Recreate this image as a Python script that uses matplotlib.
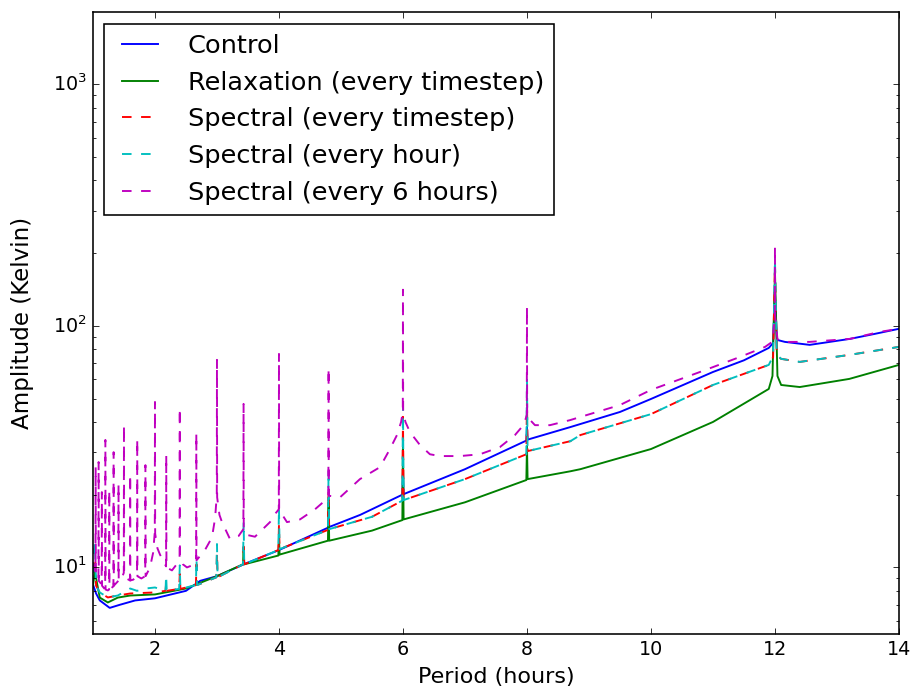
import matplotlib
matplotlib.use("Agg")
import matplotlib.pyplot as plt

# values (period in hours, amplitude in Kelvin)
CONTROL_P = [1.00, 1.05, 1.11, 1.27, 1.43, 1.68, 2.00, 2.50, 2.73, 3.00, 3.43, 4.00,
             4.79, 4.80, 4.81, 5.31, 5.99, 6.00, 6.01, 7.00, 7.99, 8.00, 8.01, 8.70,
             9.50, 10.00, 11.00, 11.50, 11.90, 11.97, 12.00, 12.03, 12.16, 12.56,
             13.21, 13.60, 14.00]
CONTROL_A = [8.5, 7.8, 7.3, 6.8, 7.0, 7.3, 7.45, 8.0, 8.8, 9.2, 10.3, 11.8,
             14.6, 16.9, 14.7, 16.5, 20.0, 24.8, 20.1, 25.5, 33.5, 38.1, 33.8, 38.1,
             44.0, 49.8, 64.4, 72.0, 81.0, 85.0, 138.0, 87.5, 85.8, 83.4,
             88.3, 92.5, 97.2]

RELAX_P = [1.00, 1.03, 1.11, 1.24, 1.40, 1.60, 2.00, 2.50, 3.00, 3.42, 3.43, 3.44,
           3.99, 4.00, 4.01, 4.79, 4.80, 4.81, 5.50, 5.99, 6.00, 6.01, 7.00, 7.99,
           8.00, 8.01, 8.70, 8.86, 10.00, 11.00, 11.90, 11.96, 12.00, 12.04, 12.10,
           12.40, 13.20, 14.00]
RELAX_A = [8.4, 9.6, 7.5, 7.16, 7.5, 7.65, 7.73, 8.18, 9.2, 10.3, 12.1, 10.3,
           11.2, 13.3, 11.3, 12.9, 18.6, 12.9, 14.2, 15.7, 33.0, 15.8, 18.6, 23.0,
           31.8, 23.2, 25.0, 25.5, 30.9, 40.0, 54.8, 62.0, 167.5, 62.0, 56.9,
           55.8, 60.3, 68.9]

SPEC_TS_P = [1.00, 1.03, 1.05, 1.11, 1.24, 1.40, 1.60, 2.00, 2.17, 2.18, 2.19,
             2.39, 2.40, 2.41, 2.66, 2.67, 2.68, 2.99, 3.00, 3.01, 3.42, 3.43, 3.44,
             3.99, 4.00, 4.01, 4.79, 4.80, 4.81, 5.50, 5.99, 6.00, 6.01, 7.00,
             7.99, 8.00, 8.01, 8.70, 8.86, 10.00, 11.00, 11.90, 11.97, 12.00,
             12.03, 12.10, 12.40, 13.20, 14.00]
SPEC_TS_A = [9.5, 12.0, 8.4, 7.88, 7.51, 7.65, 7.8, 7.88, 8.0, 8.6, 8.0,
             8.15, 9.4, 8.15, 8.45, 10.3, 8.45, 9.1, 11.5, 9.1, 10.3, 12.2, 10.3,
             11.8, 15.0, 11.9, 14.3, 21.0, 14.4, 16.2, 18.9, 42.0, 19.0, 23.2,
             29.4, 50.0, 30.3, 33.3, 35.3, 43.1, 56.9, 68.9, 74.0, 181.0,
             75.0, 73.0, 70.9, 75.8, 81.8]

SPEC_HR_P = [1.00, 1.03, 1.05, 1.11, 1.24, 1.40, 1.60, 1.71, 1.85, 2.00, 2.17,
             2.18, 2.19, 2.39, 2.40, 2.41, 2.66, 2.67, 2.68, 2.99, 3.00, 3.01, 3.42,
             3.43, 3.44, 3.99, 4.00, 4.01, 4.79, 4.80, 4.81, 5.50, 5.99, 6.00, 6.01,
             7.00, 7.99, 8.00, 8.01, 8.70, 8.86, 10.00, 11.00, 11.90, 11.97, 12.00,
             12.03, 12.10, 12.40, 13.20, 14.00]
SPEC_HR_A = [9.5, 12.7, 8.4, 7.88, 7.51, 7.65, 8.18, 8.0, 8.18, 8.26, 8.0,
             9.26, 8.0, 8.15, 10.2, 8.15, 8.45, 10.8, 8.45, 9.1, 12.5, 9.1, 10.3,
             15.4, 10.3, 11.8, 17.7, 11.9, 14.3, 25.3, 14.4, 16.2, 18.9, 47.0, 19.0,
             23.2, 29.4, 60.3, 30.3, 33.3, 35.3, 43.1, 56.9, 68.9, 75.0, 188.0,
             76.0, 73.0, 70.9, 75.8, 81.8]

SPEC_6H_P = [1.000, 1.040, 1.043, 1.046, 1.088, 1.091, 1.094, 1.140, 1.143, 1.146,
             1.197, 1.200, 1.203, 1.240, 1.260, 1.263, 1.266, 1.330, 1.333, 1.336,
             1.409, 1.412, 1.415, 1.470, 1.497, 1.500, 1.503, 1.540, 1.597, 1.600,
             1.603, 1.650, 1.711, 1.714, 1.717, 1.780, 1.843, 1.846, 1.849, 1.920,
             1.970, 1.997, 2.000, 2.003, 2.040, 2.081, 2.179, 2.182, 2.185, 2.274,
             2.350, 2.397, 2.400, 2.403, 2.450, 2.516, 2.600, 2.664, 2.667, 2.670,
             2.806, 2.919, 2.970, 2.997, 3.000, 3.003, 3.040, 3.081, 3.210, 3.350,
             3.426, 3.429, 3.432, 3.500, 3.613, 3.855, 3.950, 3.997, 4.000, 4.003,
             4.129, 4.339, 4.581, 4.700, 4.797, 4.800, 4.803, 4.984, 5.306, 5.629,
             5.790, 5.903, 5.970, 5.997, 6.000, 6.003, 6.040, 6.113, 6.274, 6.435,
             6.597, 6.919, 7.242, 7.565, 7.806, 7.950, 7.997, 8.000, 8.003, 8.129,
             8.371, 8.694, 8.855, 9.500, 10.000, 10.790, 11.440, 11.840, 11.960,
             11.997, 12.000, 12.003, 12.040, 12.160, 12.560, 13.210, 13.690, 14.000]
SPEC_6H_A = [10.5, 9.6, 26.0, 9.4, 8.9, 27.3, 8.8, 8.5, 20.5, 8.4,
             8.1, 33.7, 8.1, 8.03, 8.1, 20.9, 8.1, 8.35, 30.0, 8.4,
             8.8, 22.1, 8.8, 9.1, 9.5, 38.8, 9.5, 9.0, 8.83, 24.3,
             8.83, 8.9, 9.26, 34.0, 9.2, 9.0, 9.2, 26.5, 9.2, 10.0,
             11.5, 14.0, 48.4, 13.8, 12.0, 11.3, 10.1, 29.2, 10.0, 9.72,
             10.3, 11.0, 45.7, 11.0, 10.3, 10.0, 10.2, 10.7, 36.0, 10.7,
             11.8, 13.3, 16.0, 19.9, 72.3, 19.5, 16.5, 15.4, 13.1, 13.5,
             14.4, 47.5, 14.3, 13.6, 13.4, 15.4, 16.8, 17.4, 76.5, 17.3,
             15.4, 15.8, 17.4, 18.5, 19.9, 66.9, 19.8, 19.5, 23.2, 26.0,
             30.9, 35.3, 40.0, 44.0, 141.1, 44.0, 40.0, 36.3, 32.1, 29.4,
             28.9, 28.9, 29.4, 31.5, 35.3, 39.0, 42.7, 119.9, 42.0, 38.8,
             38.8, 40.7, 41.9, 47.0, 54.3, 64.4, 74.4, 81.8, 86.0,
             110.0, 212.7, 110.0, 88.0, 85.8, 85.8, 88.3, 94.4, 97.2]


def main(out_path="out.png"):
    plt.style.use("classic")
    plt.rcParams["figure.facecolor"] = "white"
    plt.rcParams["savefig.facecolor"] = "white"
    plt.rcParams["mathtext.fontset"] = "dejavusans"

    fig = plt.figure(figsize=(8, 6))
    ax = fig.add_axes([0.1015, 0.0771, 0.8799, 0.9054])

    ax.plot(CONTROL_P, CONTROL_A, color="b", lw=1.2, label="Control")
    ax.plot(RELAX_P, RELAX_A, color="g", lw=1.2, label="Relaxation (every timestep)")
    ax.plot(SPEC_TS_P, SPEC_TS_A, "--", color="r", lw=1.2, label="Spectral (every timestep)")
    ax.plot(SPEC_HR_P, SPEC_HR_A, "--", color="c", lw=1.2, label="Spectral (every hour)")
    ax.plot(SPEC_6H_P, SPEC_6H_A, "--", color="m", lw=1.2, label="Spectral (every 6 hours)")

    ax.set_yscale("log")
    ax.set_xlim(1, 14)
    ax.set_ylim(5.3, 1990)
    ax.tick_params(labelsize=12)
    ax.set_xlabel("Period (hours)", fontsize=14, labelpad=5)
    ax.set_ylabel("Amplitude (Kelvin)", fontsize=14.5, labelpad=12)
    ax.legend(loc="upper left", fontsize=16.1, handlelength=2.0, handletextpad=0.85,
              borderpad=0.4, labelspacing=0.5, borderaxespad=0.45)

    fig.savefig(out_path, dpi=114.5)
    plt.close(fig)


if __name__ == "__main__":
    main()
